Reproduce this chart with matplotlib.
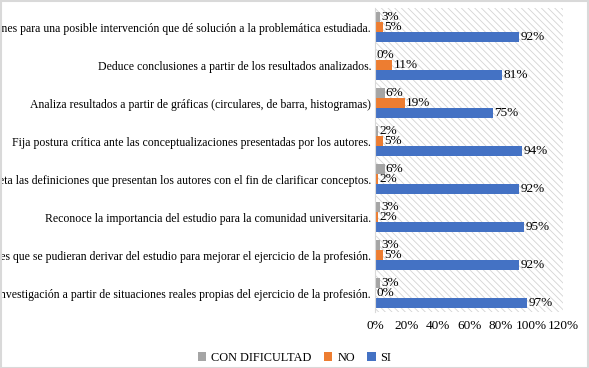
import matplotlib.pyplot as plt
from matplotlib.patches import Rectangle
from matplotlib.ticker import FuncFormatter
import numpy as np

categorias = [
    'Propone acciones para una posible intervención que dé solución a la problemática estudiada.',
    'Deduce conclusiones a partir de los resultados analizados.',
    'Analiza resultados a partir de gráficas (circulares, de barra, histogramas)',
    'Fija postura crítica ante las conceptualizaciones presentadas por los autores.',
    'Interpreta las definiciones que presentan los autores con el fin de clarificar conceptos.',
    'Reconoce la importancia del estudio para la comunidad universitaria.',
    'Identifica aportes que se pudieran derivar del estudio para mejorar el ejercicio de la profesión.',
    'Plantea problemas de investigación a partir de situaciones reales propias del ejercicio de la profesión.',
]
con_dificultad = [3, 0, 6, 2, 6, 3, 3, 3]
no = [5, 11, 19, 5, 2, 2, 5, 0]
si = [92, 81, 75, 94, 92, 95, 92, 97]

series = [('CON DIFICULTAD', con_dificultad, '#A5A5A5'),
          ('NO', no, '#ED7D31'),
          ('SI', si, '#4472C4')]

plt.rcParams['font.family'] = 'Liberation Serif'
plt.rcParams['hatch.linewidth'] = 0.6
plt.rcParams['hatch.color'] = '#D4D4D4'

fig = plt.figure(figsize=(5.89, 3.68), dpi=100)
ax = fig.add_axes([0.637, 0.152, 0.319, 0.826])

# fondo rayado del area de trazado
ax.add_patch(Rectangle((0, 0), 1, 1, transform=ax.transAxes, facecolor='white',
                       edgecolor='#D4D4D4', hatch='\\\\\\\\\\', linewidth=0, zorder=0))

y = np.arange(len(categorias))
h = 0.263
for k, (nombre, vals, color) in enumerate(series):
    pos = y + (k - 1) * h
    ax.barh(pos, vals, height=h, color=color, label=nombre, zorder=2)
    for p, v in zip(pos, vals):
        ax.text(v + 0.8, p, f'{v}%', va='center', ha='left', fontsize=9.5, zorder=3)

ax.set_ylim(len(categorias) - 0.5, -0.5)
ax.set_xlim(0, 120)
ax.set_xticks(range(0, 121, 20))
ax.xaxis.set_major_formatter(FuncFormatter(lambda v, _: f'{int(v)}%'))
ax.set_yticks(y)
ax.set_yticklabels(categorias, fontsize=8.45)
ax.tick_params(axis='both', length=0, pad=3)
ax.tick_params(axis='x', labelsize=9.5, pad=6)
for s in ['top', 'right', 'bottom']:
    ax.spines[s].set_visible(False)
ax.spines['left'].set_color('#D9D9D9')

fig.legend(loc='lower center', bbox_to_anchor=(0.5, -0.018), ncol=3, frameon=False,
           fontsize=8.8, handlelength=0.7, handleheight=0.7, handletextpad=0.4,
           columnspacing=1.0)

fig.patches.append(Rectangle((0.001, 0.001), 0.998, 0.997, transform=fig.transFigure,
                             fill=False, edgecolor='#D9D9D9', linewidth=1.5))

fig.savefig('out.png', dpi=100)
